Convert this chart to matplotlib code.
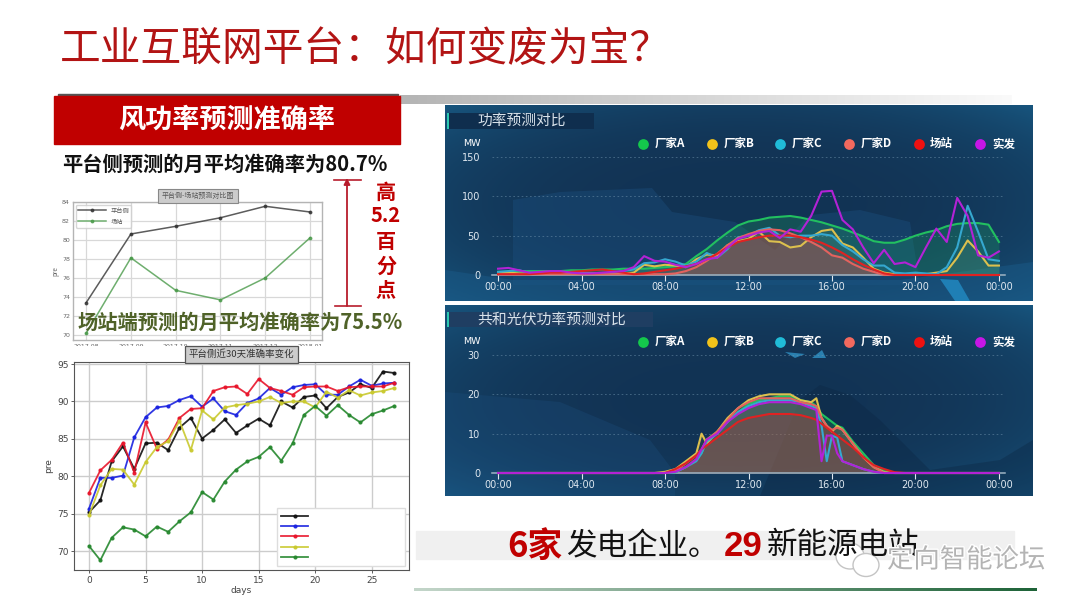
import numpy as np
import matplotlib.pyplot as plt
from matplotlib.patches import Ellipse, Polygon, Rectangle
import matplotlib.patheffects as pe

plt.rcParams['font.family'] = ['Noto Sans CJK SC', 'DejaVu Sans']
plt.rcParams['axes.unicode_minus'] = False

W, H = 1080, 608

# monthly accuracy, small chart
months = ['2017.08', '2017.09', '2017.10', '2017.11', '2017.12', '2018.01']
platform_month = [73.4, 80.6, 81.4, 82.3, 83.5, 82.9]
station_month = [70.2, 78.1, 74.7, 73.7, 76.0, 80.2]

# last 30 days accuracy
days = list(range(28))
acc_black = [75.2, 76.8, 82.0, 84.0, 81.0, 84.4, 84.5, 83.5, 86.5, 87.8, 85.05, 86.2, 87.6, 85.8,
             86.8, 87.7, 86.8, 90.0, 89.2, 90.6, 90.8, 89.1, 90.6, 91.2, 92.3, 91.8, 94.0, 93.8]
acc_blue = [75.7, 79.8, 79.8, 80.1, 85.2, 87.9, 89.2, 89.4, 90.2, 90.7, 89.3, 90.4, 88.7, 88.2,
            89.8, 90.4, 91.8, 90.9, 91.9, 92.2, 92.3, 90.9, 90.9, 92.0, 92.9, 92.1, 92.4, 92.5]
acc_red = [77.8, 80.8, 82.2, 84.5, 80.5, 87.2, 83.7, 84.9, 87.8, 89.0, 89.1, 91.4, 91.9, 92.0,
           91.0, 93.0, 91.8, 91.4, 90.9, 91.9, 92.0, 92.0, 91.4, 91.9, 92.0, 92.0, 92.0, 92.5]
acc_yellow = [74.8, 78.8, 81.0, 80.9, 78.9, 81.9, 83.9, 84.7, 87.4, 83.5, 88.8, 87.6, 89.2, 89.5,
              89.7, 90.0, 90.6, 89.8, 90.0, 90.0, 89.2, 91.3, 90.5, 91.5, 90.8, 91.2, 91.4, 91.8]
acc_green = [70.7, 68.8, 71.8, 73.2, 72.9, 72.0, 73.3, 72.6, 74.0, 75.2, 77.9, 76.9, 79.3, 80.9,
             82.0, 82.6, 83.9, 82.1, 84.4, 88.2, 89.4, 88.1, 89.5, 88.2, 87.2, 88.3, 88.8, 89.4]

# wind power, half hourly 00:00 - 24:00
wind_hours = [i / 2 for i in range(49)]
wind_a = [4, 4, 5, 5, 5, 5, 5, 6, 6, 7, 7, 7, 8, 8, 8, 9, 10, 11, 14, 24, 33, 44, 54, 63, 68,
          70, 73, 74, 75, 73, 70, 67, 63, 59, 54, 49, 43, 41, 41, 45, 50, 54, 57, 62, 65, 66, 66, 64, 42]
wind_b = [2, 3, 2, 2, 2, 2, 2, 2, 2, 2, 2, 2, 2, 3, 13, 11, 13, 12, 10, 20, 26, 25, 38, 43, 46,
          55, 43, 42, 35, 37, 48, 56, 58, 40, 35, 22, 8, 3, 1, 1, 1, 1, 3, 5, 22, 44, 30, 12, 12]
wind_c = [4, 5, 6, 3, 2, 2, 2, 2, 2, 2, 2, 3, 5, 7, 15, 16, 20, 17, 12, 17, 28, 22, 33, 48, 50,
          57, 60, 50, 48, 50, 50, 52, 50, 38, 30, 20, 12, 12, 3, 2, 3, 2, 1, 10, 35, 88, 55, 20, 18]
wind_d = [1, 1, 1, 1, 1, 1, 1, 1, 1, 1, 1, 1, 1, 1, 1, 1, 1, 2, 5, 10, 18, 27, 38, 47, 52,
          56, 58, 57, 53, 48, 42, 35, 25, 22, 14, 8, 4, 0, 0, 0, 0, 0, 0, 0, 0, 0, 0, 0, 0]
wind_st = [1, 1, 1, 1, 2, 3, 3, 4, 5, 6, 7, 5, 3, 1, 2, 4, 6, 8, 11, 14, 20, 27, 35, 42, 45,
           48, 50, 50, 50, 48, 45, 41, 35, 28, 20, 13, 7, 2, 0, 0, 0, 0, 0, 0, 0, 0, 0, 0, 0]
wind_act = [8, 9, 6, 3, 4, 5, 5, 3, 2, 2, 3, 4, 5, 10, 24, 18, 17, 13, 10, 14, 20, 22, 35, 46, 50,
            54, 56, 47, 58, 55, 75, 106, 107, 70, 58, 35, 15, 32, 14, 16, 10, 35, 59, 42, 98, 75, 25, 22, 30]

# pv power
pv_hours = [0, 7.5, 8, 8.5, 9, 9.5, 9.75, 10, 10.5, 11, 11.5, 12, 12.5, 13, 13.5, 14, 14.5, 15,
            15.25, 15.5, 15.75, 16, 16.25, 16.5, 17, 17.5, 18, 18.5, 19, 19.5, 24]
pv_a = [0, 0, 0, 0.2, 1.5, 3.5, 5, 8.5, 10.5, 13, 15.5, 17.5, 18.5, 19, 19.5, 19.5, 18.5, 18,
        17, 15, 14, 13, 12, 11.5, 8, 5, 2, 0.5, 0, 0, 0]
pv_b = [0, 0, 0.3, 1, 3, 5, 10, 7.5, 10.5, 14, 16.5, 18.5, 19.5, 20, 20, 20, 18.5, 18,
        19, 14, 12, 10.5, 12, 11, 7.5, 4, 1.5, 0.2, 0, 0, 0]
pv_c = [0, 0, 0, 0.2, 1.5, 3, 5, 8, 10, 13, 15.5, 17, 18, 18.5, 18.5, 18.5, 18, 17,
        16.5, 12, 3, 9.5, 9, 3, 2, 1, 0.3, 0, 0, 0, 0]
pv_d = [0, 0, 0, 0.5, 2.5, 4.5, 6, 8.5, 10.5, 13.5, 16.5, 18, 19, 19, 19, 19, 18, 17.5,
        17, 14, 12, 11, 11.5, 11, 7.5, 4, 1.5, 0, 0, 0, 0]
pv_st = [0, 0, 0, 1, 2.5, 4.5, 6, 7, 9, 11, 13, 14, 14.5, 15, 15, 15, 14.7, 14,
         13.5, 12.5, 11.5, 10.5, 9.5, 8.5, 6.5, 4, 2, 1, 0.2, 0, 0]
pv_act = [0, 0, 0, 0.3, 1.5, 3.5, 6, 8.5, 10, 13, 15, 16.5, 17.5, 18, 18, 18, 17.5, 16.5,
          16, 3, 9.5, 9.5, 5, 3, 2, 1, 0.3, 0, 0, 0, 0]

vendor_names = ['厂家A', '厂家B', '厂家C', '厂家D', '场站', '实发']
vendor_colors = ['#14c84c', '#f2c31a', '#20bcd8', '#f2695e', '#ee1111', '#c616e6']
line_colors = ['#22c060', '#dcc04e', '#35a8d0', '#e4625e', '#e02222', '#b322d6']
time_ticks = [0, 4, 8, 12, 16, 20, 24]
time_labels = ['00:00', '04:00', '08:00', '12:00', '16:00', '20:00', '00:00']


def ax_px(l, t, r, b, **kw):
    return fig.add_axes([l / W, 1 - b / H, (r - l) / W, (b - t) / H], **kw)


def gradient(ax, l, t, r, b, c0, c1):
    c0 = np.array(plt.matplotlib.colors.to_rgb(c0))
    c1 = np.array(plt.matplotlib.colors.to_rgb(c1))
    s = np.linspace(0, 1, 300)[None, :, None]
    ax.imshow(c0 + (c1 - c0) * s, extent=(l, r, b, t), aspect='auto', zorder=1)


def panel_bg(ax, l, t, r, b):
    # dark navy in the middle, a bit lighter towards the edges
    xx, yy = np.meshgrid(np.linspace(-1, 1, 300), np.linspace(-1, 1, 100))
    d = np.clip(np.hypot(xx * .9, yy * .9) / 1.27, 0, 1)[..., None] ** 3
    img = np.array([0.07, 0.20, 0.33]) * (1 - d) + np.array([0.09, 0.33, 0.49]) * d
    ax.imshow(img, extent=(l, r, b, t), aspect='auto', zorder=1)


def power_chart(t, b, top, yticks, hours, series):
    ax = ax_px(492, t, 1005, b, zorder=2)
    ax.patch.set_alpha(0)
    for y, col, fill in zip(series, line_colors, [.22, .08, .08, .18, .2, 0]):
        if fill:
            ax.fill_between(hours, y, color=col, alpha=fill, lw=0)
    for y, col in zip(series, line_colors):
        ax.plot(hours, y, color=col, lw=1.5, clip_on=False, zorder=3)
    ax.set_xlim(-0.29, 24.29)
    ax.set_ylim(0, top)
    ax.set_xticks(time_ticks)
    ax.set_xticklabels(time_labels, family='DejaVu Sans')
    ax.set_yticks(yticks)
    ax.set_yticklabels(yticks, family='DejaVu Sans')
    ax.tick_params(axis='x', colors='#dfe8f0', labelsize=7, length=4, width=.8, pad=1)
    ax.tick_params(axis='y', colors='#dfe8f0', labelsize=7, length=0, pad=8.6)
    ax.grid(axis='y', color='#6f93ad', ls=(0, (2, 3)), lw=.6, alpha=.6)
    ax.set_axisbelow(True)
    for s in ['top', 'left', 'right']:
        ax.spines[s].set_visible(False)
    ax.spines['bottom'].set_color('#9fb4c4')
    ax.spines['bottom'].set_linewidth(1.1)
    return ax


fig = plt.figure(figsize=(W / 100, H / 100), dpi=100, facecolor='white')

# background layer in pixel coordinates
bg = ax_px(0, 0, W, H, zorder=0)
gradient(bg, 400, 95, 1012, 104, '#b4b4b4', '#fafafa')
gradient(bg, 414, 588, 1037, 591, '#c4d6ca', '#1e6338')
panel_bg(bg, 445, 105, 1033, 301)
panel_bg(bg, 445, 305, 1033, 496)
bg.set_xlim(0, W)
bg.set_ylim(H, 0)
bg.axis('off')
bg.add_patch(Rectangle((58, 94), 340, 1.5, color='#555555', zorder=2))
bg.add_patch(Rectangle((54, 96), 346, 48, color='#c00000', zorder=3))
bg.add_patch(Rectangle((416, 531), 598, 28, color='#f0f0f0', zorder=2))

map_dark = '#0c2744'
map_light = '#1c5080'
bg.add_patch(Polygon([(513, 200), (560, 192), (652, 188), (672, 212), (735, 222), (775, 250), (810, 215),
                      (860, 210), (910, 222), (920, 285), (513, 285)], color=map_light, alpha=.4, lw=0, zorder=2))
bg.add_patch(Polygon([(445, 270), (513, 280), (900, 280), (1033, 262), (1033, 301), (445, 301)], color='#1a5a88', alpha=.5, lw=0, zorder=2))
bg.add_patch(Polygon([(940, 279), (958, 280), (970, 301), (955, 301)], color='#1f7fb5', lw=0, zorder=3))
bg.add_patch(Polygon([(445, 392), (560, 402), (650, 440), (675, 473), (675, 496), (445, 496)], color=map_light, alpha=.3, lw=0, zorder=2))
bg.add_patch(Polygon([(800, 400), (820, 385), (850, 395), (880, 420), (930, 470), (1000, 460), (1033, 440),
                      (1033, 496), (760, 496)], color=map_dark, alpha=.4, lw=0, zorder=2))
bg.add_patch(Polygon([(785, 352), (805, 354), (795, 358)], color='#2a80b0', lw=0, zorder=3))
bg.add_patch(Polygon([(812, 358), (822, 350), (826, 358)], color='#2a80b0', lw=0, zorder=3))
bg.add_patch(Rectangle((447, 113), 147, 16, color='#0f2e4e', lw=0, zorder=3))
bg.add_patch(Rectangle((447, 312), 206, 15, color='#1f3e62', lw=0, zorder=3))
bg.add_patch(Rectangle((447, 113), 1.5, 16, color='#2cc8b0', lw=0, zorder=4))
bg.add_patch(Rectangle((447, 312), 1.5, 15, color='#2cc8b0', lw=0, zorder=4))

# monthly chart
ax1 = ax_px(72.7, 201.5, 321.7, 340, zorder=2)
ax1.plot(range(6), platform_month, color='#333333', lw=1.1, marker='o', ms=1.8, alpha=.8, label='平台侧')
ax1.plot(range(6), station_month, color='#4a9a4a', lw=1.1, marker='o', ms=1.8, alpha=.8, label='场站')
ax1.set_xlim(-0.3, 5.26)
ax1.set_ylim(69.5, 84)
ax1.set_xticks(range(6))
ax1.set_xticklabels(months)
ax1.set_yticks(range(70, 85, 2))
ax1.tick_params(labelsize=4.5, colors='#666666', length=0, pad=2, labelfontfamily='DejaVu Sans')
ax1.tick_params(axis='x', pad=3)
ax1.grid(color='#d8d8d8', lw=.9)
ax1.set_axisbelow(True)
ax1.set_ylabel('pre', fontsize=4.5, color='#666666', labelpad=2)
for s in ax1.spines.values():
    s.set_color('#b4b4b4')
    s.set_linewidth(1)
ax1.legend(loc='upper left', fontsize=4.5, frameon=True, labelcolor='#555555', borderpad=.3, handlelength=4.5)
fig.text(198 / W, 1 - 196 / H, '平台侧-场站预测对比图', fontsize=5, color='#555555', ha='center', va='center', zorder=3,
         bbox=dict(boxstyle='square,pad=.5', fc='#cccccc', ec='#888888', lw=.8))

# hide what is under the lower chart
cover = ax_px(50, 345.5, 416, 362, zorder=3)
cover.axis('off')
cover.add_patch(Rectangle((0, 0), 1, 1, color='white', transform=cover.transAxes))

# 30 day chart
ax2 = ax_px(74, 362, 409, 570, zorder=4)
for y, col in zip([acc_black, acc_blue, acc_red, acc_yellow, acc_green], ['#111111', '#1a22e0', '#e8142a', '#c9c92e', '#26882e']):
    ax2.plot(days, y, color=col, lw=1.3, marker='o', ms=2, alpha=.9, label=' ' * 46)
ax2.set_xlim(-1.33, 28.3)
ax2.set_ylim(67.5, 95.27)
ax2.set_xticks(range(0, 30, 5))
ax2.set_yticks(range(70, 100, 5))
ax2.tick_params(labelsize=6.5, colors='#444444', length=2, width=.6, pad=2, labelfontfamily='DejaVu Sans')
ax2.grid(color='#cccccc', lw=1)
ax2.set_axisbelow(True)
ax2.set_xlabel('days', fontsize=6.5, color='#444444', labelpad=1, family='DejaVu Sans')
ax2.set_ylabel('pre', fontsize=6.5, color='#444444', labelpad=3, family='DejaVu Sans')
for s in ax2.spines.values():
    s.set_color('#555555')
    s.set_linewidth(.8)
ax2.legend(loc='lower right', fontsize=6.0, frameon=True, framealpha=1, edgecolor='#dddddd', fancybox=False,
           borderpad=.5, labelspacing=.15, handlelength=3.2, bbox_to_anchor=(.988, .02), borderaxespad=0)
ax2.set_title('平台侧近30天准确率变化', fontsize=6.8, color='#333333', y=1.0, pad=3.5,
              bbox=dict(boxstyle='square,pad=.4', fc='#cccccc', ec='#555555', lw=.9))

# power charts
power_chart(157, 275, 150, [0, 50, 100, 150], wind_hours, [wind_a, wind_b, wind_c, wind_d, wind_st, wind_act])
power_chart(355, 473, 30, [0, 10, 20, 30], pv_hours, [pv_a, pv_b, pv_c, pv_d, pv_st, pv_act])

# text layer in pixel coordinates
fg = ax_px(0, 0, W, H, zorder=6)
fg.set_xlim(0, W)
fg.set_ylim(H, 0)
fg.axis('off')
fg.patch.set_alpha(0)

fg.text(60, 50, '工业互联网平台：如何变废为宝？', fontsize=29.3, color='#b21414', va='center')
fg.text(227, 120, '风功率预测准确率', fontsize=19.5, color='white', weight='bold', ha='center', va='center')
fg.text(62, 164, '平台侧预测的月平均准确率为80.7%', fontsize=14.6, color='#111111', weight='bold', va='center')
fg.text(78, 322, '场站端预测的月平均准确率为75.5%', fontsize=14.6, color='#4f6228', weight='bold', va='center')

# the 5.2 point gap marker
fg.annotate('', xy=(347, 178), xytext=(347, 306),
            arrowprops=dict(arrowstyle='-|>', color='#b81c2c', lw=1.3, mutation_scale=9, shrinkA=0, shrinkB=0))
fg.plot([334, 361], [180, 180], color='#b81c2c', lw=1.2)
fg.plot([335, 361], [306, 306], color='#b81c2c', lw=1.2)
for s, y in zip(['高', '5.2', '百', '分', '点'], [192, 216, 241, 266, 290]):
    fg.text(386, y, s, fontsize=14.5, color='#c00000', weight='bold', ha='center', va='center')

# panel heads
fg.text(477, 121, '功率预测对比', fontsize=10.6, color='#d8e2ea', va='center')
fg.text(477, 319.5, '共和光伏功率预测对比', fontsize=10.7, color='#d8e2ea', va='center')
for ly in [144, 342]:
    fg.text(463, ly, 'MW', fontsize=6.8, color='white', va='center', family='DejaVu Sans')
    for name, col, dx, tx in zip(vendor_names, vendor_colors,
                                 [643, 712, 780, 849, 919, 980], [655, 724, 792, 861, 930, 992]):
        fg.scatter([dx], [ly], s=60, color=col, lw=0)
        fg.text(tx, ly, name, fontsize=8.3, color='white', weight='bold', va='center')

# bottom line
ly = 546
fg.text(507, ly, '6家', fontsize=25, color='#c00000', weight='bold', va='center')
fg.text(566, ly, '发电企业。', fontsize=22, color='#111111', va='center')
fg.text(724, ly, '29', fontsize=25, color='#c00000', weight='bold', va='center', family='Liberation Sans')
fg.text(767, ly, '新能源电站', fontsize=22, color='#111111', va='center')

# watermark
fg.add_patch(Ellipse((850, 556), 28, 26, fc='white', ec='#c4c4c4', lw=1))
fg.add_patch(Ellipse((866, 565), 26, 23, fc='white', ec='#c4c4c4', lw=1))
fg.text(887, 560, '定向智能论坛', fontsize=19, color='#b4b4b4', va='center',
        path_effects=[pe.withStroke(linewidth=2, foreground='white')])

fig.savefig('out.png', dpi=100)
